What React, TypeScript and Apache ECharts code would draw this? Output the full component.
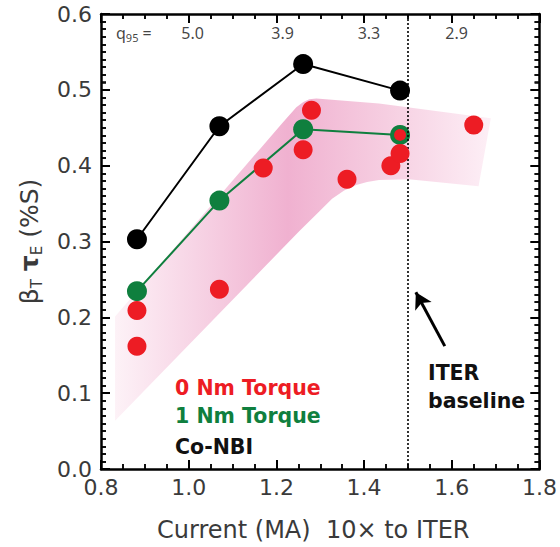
import React, { useEffect, useRef } from "react";
import * as echarts from "echarts";

// Co-NBI (black) : [current MA, beta_T tau_E]
const coNbi: number[][] = [
  [0.882, 0.303],
  [1.07, 0.452],
  [1.261, 0.534],
  [1.482, 0.499],
];
// 1 Nm torque (green)
const torque1: number[][] = [
  [0.882, 0.2345],
  [1.07, 0.354],
  [1.261, 0.448],
  [1.482, 0.4406],
];
// 0 Nm torque (red)
const torque0: number[][] = [
  [0.882, 0.209],
  [0.882, 0.162],
  [1.07, 0.237],
  [1.17, 0.397],
  [1.261, 0.421],
  [1.28, 0.473],
  [1.361, 0.382],
  [1.461, 0.4],
  [1.482, 0.416],
  [1.65, 0.4535],
  [1.482, 0.4406],
];
const torque0OverlapIndex = 10;

// shaded band edges
const bandUpper: number[][] = [
  [0.832, 0.201],
  [1.2136, 0.4561],
  [1.2455, 0.4769],
  [1.2614, 0.484],
  [1.275, 0.4877],
  [1.291, 0.4885],
  [1.434, 0.482],
  [1.689, 0.4626],
];
const bandLower: number[][] = [
  [0.832, 0.0635],
  [1.252, 0.3136],
  [1.2977, 0.3395],
  [1.327, 0.3564],
  [1.3545, 0.3674],
  [1.382, 0.3745],
  [1.4068, 0.3784],
  [1.434, 0.381],
  [1.502, 0.382],
  [1.661, 0.373],
];

const q95Labels = ["5.0", "3.9", "3.3", "2.9"];
const q95Currents = [1.009, 1.214, 1.411, 1.611];
const q95Row = 0.575;
const q95HeaderX = 0.875;

const iterCurrent = 1.5;
const arrowTail = [1.584, 0.162];
const arrowTip = [1.518, 0.233];

const xRange = { min: 0.8, max: 1.8 };
const yRange = { min: 0, max: 0.6 };
const xMajor = 0.2;
const xMinorSplit = 4;
const yMajor = 0.1;
const yMinorSplit = 10;

const GRID = { left: 101, right: 18, top: 14, bottom: 70 };
const CHART_W = 560;
const CHART_H = 547;

const RED = "#ed1c24";
const GREEN = "#0f7f3e";
const AXIS_FONT = "'DejaVu Sans', sans-serif";
const BOLD_FONT = "'DejaVu Sans', sans-serif";

// tick values generated from the axis definitions
function tickValues(min: number, max: number, major: number, split: number): number[] {
  const step = major / split;
  const n = Math.round((max - min) / step);
  const out: number[] = [];
  for (let i = 1; i < n; i++) out.push(+(min + i * step).toFixed(4));
  return out;
}
function isMajor(v: number, min: number, major: number) {
  const k = (v - min) / major;
  return Math.abs(k - Math.round(k)) < 1e-6;
}

// inward frame ticks as short mark lines (lengths converted from pixels to data units)
function buildTickLines(): any[] {
  const plotW = CHART_W - GRID.left - GRID.right;
  const plotH = CHART_H - GRID.top - GRID.bottom;
  const pxX = (xRange.max - xRange.min) / plotW;
  const pxY = (yRange.max - yRange.min) / plotH;
  const lines: any[] = [];
  tickValues(xRange.min, xRange.max, xMajor, xMinorSplit).forEach((v) => {
    const major = isMajor(v, xRange.min, xMajor);
    const len = (major ? 9 : 5) * pxY;
    const ls = { type: "solid", width: major ? 2 : 1.5, color: "#000" };
    lines.push([{ coord: [v, yRange.min], lineStyle: ls }, { coord: [v, yRange.min + len] }]);
    lines.push([{ coord: [v, yRange.max], lineStyle: ls }, { coord: [v, yRange.max - len] }]);
  });
  tickValues(yRange.min, yRange.max, yMajor, yMinorSplit).forEach((v) => {
    const major = isMajor(v, yRange.min, yMajor);
    const len = (major ? 9 : 5) * pxX;
    const ls = { type: "solid", width: major ? 2 : 1.5, color: "#000" };
    lines.push([{ coord: [xRange.min, v], lineStyle: ls }, { coord: [xRange.min + len, v] }]);
    lines.push([{ coord: [xRange.max, v], lineStyle: ls }, { coord: [xRange.max - len, v] }]);
  });
  return lines;
}

function frameLine() {
  return { show: true, onZero: false, lineStyle: { color: "#000", width: 2.5 } };
}
function insideTick() {
  return { show: true, inside: true, length: 9, lineStyle: { color: "#000", width: 2 } };
}
function insideMinor(n: number) {
  return { show: true, splitNumber: n, length: 5, lineStyle: { color: "#000", width: 1.5 } };
}

export default function App() {
  const ref = useRef<HTMLDivElement>(null);
  useEffect(() => {
    if (!ref.current) return;
    const chart = echarts.init(ref.current, null, { renderer: "svg" });

    const labelStyle = { fontFamily: AXIS_FONT, fontSize: 22, color: "#3a3a3a" };
    const bandPoly = [...bandUpper, ...bandLower.slice().reverse()];
    const tickLines = buildTickLines();

    const option: any = {
      animation: false,
      backgroundColor: "#fff",
      grid: { show: false, ...GRID },
      xAxis: [
        {
          type: "value",
          position: "bottom",
          z: 10,
          ...xRange,
          interval: xMajor,
          axisLine: frameLine(),
          axisTick: insideTick(),
          minorTick: insideMinor(xMinorSplit),
          splitLine: { show: false },
          minorSplitLine: { show: false },
          axisLabel: { ...labelStyle, margin: 7, formatter: (v: number) => v.toFixed(1) },
          name: "Current (MA)\u00a0\u00a010× to ITER",
          nameLocation: "middle",
          nameGap: 49,
          nameTextStyle: { ...labelStyle, fontSize: 24, padding: [0, 14, 0, 0] },
        },
        {
          type: "value",
          position: "top",
          z: 10,
          ...xRange,
          interval: xMajor,
          axisLine: frameLine(),
          axisTick: insideTick(),
          minorTick: insideMinor(xMinorSplit),
          splitLine: { show: false },
          minorSplitLine: { show: false },
          axisLabel: { show: false },
        },
      ],
      yAxis: [
        {
          type: "value",
          position: "left",
          z: 10,
          ...yRange,
          interval: yMajor,
          axisLine: frameLine(),
          axisTick: insideTick(),
          minorTick: insideMinor(yMinorSplit),
          splitLine: { show: false },
          minorSplitLine: { show: false },
          axisLabel: { ...labelStyle, margin: 9, formatter: (v: number) => v.toFixed(1) },
          name: "{m|β}{s|T}{m|\u00a0}{t|τ}{s|E}{m|\u00a0(%S)}",
          nameLocation: "middle",
          nameRotate: 90,
          nameGap: 57,
          nameTextStyle: {
            color: "#3a3a3a",
            rich: {
              m: { fontFamily: AXIS_FONT, fontSize: 25, lineHeight: 30, color: "#3a3a3a" },
              t: { fontFamily: AXIS_FONT, fontSize: 25, fontWeight: "bold", lineHeight: 30, color: "#3a3a3a" },
              s: { fontFamily: AXIS_FONT, fontSize: 15, lineHeight: 15, verticalAlign: "bottom", color: "#3a3a3a" },
            },
          },
        },
        {
          type: "value",
          position: "right",
          z: 10,
          ...yRange,
          interval: yMajor,
          axisLine: frameLine(),
          axisTick: insideTick(),
          minorTick: insideMinor(yMinorSplit),
          splitLine: { show: false },
          minorSplitLine: { show: false },
          axisLabel: { show: false },
        },
      ],
      series: [
        {
          type: "custom",
          name: "band",
          silent: true,
          z: 1,
          data: [bandUpper[0]],
          renderItem: (_params: any, api: any) => ({
            type: "polygon",
            shape: { points: bandPoly.map((p) => api.coord(p)) },
            style: {
              fill: new echarts.graphic.LinearGradient(0, 0, 1, 0, [
                { offset: 0, color: "#fdf2f7" },
                { offset: 0.46, color: "#f0b1d0" },
                { offset: 0.72, color: "#f6cee1" },
                { offset: 1, color: "#fdeff6" },
              ]),
            },
          }),
        },
        {
          type: "line",
          name: "Co-NBI",
          z: 3,
          data: coNbi,
          symbol: "circle",
          symbolSize: 20,
          lineStyle: { color: "#000", width: 2 },
          itemStyle: { color: "#000" },
          markLine: {
            silent: true,
            symbol: "none",
            label: { show: false },
            lineStyle: { color: "#000", width: 1.6, type: [2, 2] },
            data: [{ xAxis: iterCurrent }, ...tickLines],
          },
        },
        {
          type: "line",
          name: "1 Nm Torque",
          z: 4,
          data: torque1,
          symbol: "circle",
          symbolSize: 20,
          lineStyle: { color: GREEN, width: 2 },
          itemStyle: { color: GREEN },
          markLine: {
            silent: true,
            symbol: ["none", "arrow"],
            symbolSize: [14, 16],
            label: { show: false },
            lineStyle: { color: "#000", width: 3, type: "solid" },
            data: [[{ coord: arrowTail }, { coord: arrowTip }]],
          },
        },
        {
          type: "scatter",
          name: "0 Nm Torque",
          z: 5,
          data: torque0,
          symbol: "circle",
          symbolSize: (_v: any, p: any) => (p.dataIndex === torque0OverlapIndex ? 12 : 19),
          itemStyle: { color: RED, opacity: 1 },
        },
        {
          type: "scatter",
          name: "q95",
          z: 6,
          silent: true,
          symbolSize: 1,
          itemStyle: { color: "rgba(0,0,0,0)" },
          data: [
            { value: [q95HeaderX, q95Row], name: "header" },
            ...q95Currents.map((x, i) => ({ value: [x, q95Row], name: q95Labels[i] })),
          ],
          label: {
            show: true,
            position: "inside",
            fontFamily: "'Noto Sans', sans-serif",
            fontSize: 16,
            color: "#111",
            formatter: (p: any) => (p.name === "header" ? "{q|q}{s|95}{q|\u00a0=}" : p.name),
            rich: {
              q: { fontFamily: "'Noto Sans', sans-serif", fontSize: 16, lineHeight: 20, color: "#111" },
              s: { fontFamily: "'Noto Sans', sans-serif", fontSize: 11, lineHeight: 12, verticalAlign: "bottom", color: "#111" },
            },
          },
        },
      ],
      graphic: [
        { type: "text", x: 175, y: 388, style: { text: "0 Nm Torque", fontSize: 20.5, fontWeight: "bold", fontFamily: BOLD_FONT, fill: RED, verticalAlign: "middle" } },
        { type: "text", x: 175, y: 416, style: { text: "1 Nm Torque", fontSize: 20.5, fontWeight: "bold", fontFamily: BOLD_FONT, fill: GREEN, verticalAlign: "middle" } },
        { type: "text", x: 175, y: 447, style: { text: "Co-NBI", fontSize: 20.5, fontWeight: "bold", fontFamily: BOLD_FONT, fill: "#111", verticalAlign: "middle" } },
        { type: "text", x: 428, y: 373, style: { text: "ITER", fontSize: 20.5, fontWeight: "bold", fontFamily: BOLD_FONT, fill: "#111", verticalAlign: "middle" } },
        { type: "text", x: 428, y: 401, style: { text: "baseline", fontSize: 20.5, fontWeight: "bold", fontFamily: BOLD_FONT, fill: "#111", verticalAlign: "middle" } },
      ],
    };
    chart.setOption(option);
    return () => chart.dispose();
  }, []);
  return <div ref={ref} style={{ width: CHART_W, height: CHART_H, position: "absolute", left: 0, top: 0 }} />;
}
